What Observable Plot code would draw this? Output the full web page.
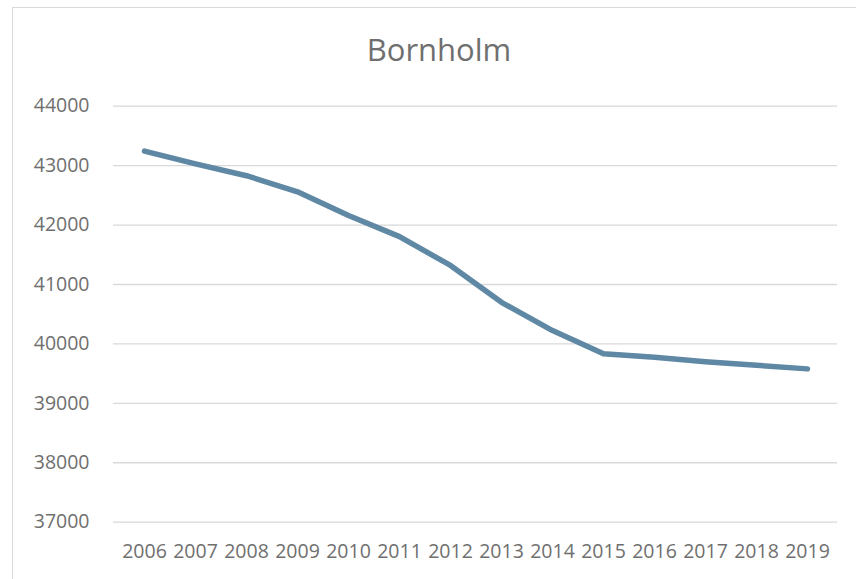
<!DOCTYPE html>
<html>
<head>
<meta charset="utf-8">
<script src="https://cdn.jsdelivr.net/npm/d3@7"></script>
<script src="https://cdn.jsdelivr.net/npm/@observablehq/plot@0.6"></script>
<style>
  html, body { margin: 0; padding: 0; background: #ffffff; overflow: hidden; }
  body { width: 856px; height: 579px; position: relative; font-family: "Open Sans", Lato, sans-serif; }
  #frame { position: absolute; left: 12px; top: 7px; width: 860px; height: 590px; border: 1px solid #d9d9d9; box-sizing: border-box; }
  #title { position: absolute; left: 0; width: 878px; top: 34px; text-align: center; font-size: 31px; line-height: 31px; color: #6f6f6f; }
  #chart { position: absolute; left: 0; top: 0; }
</style>
</head>
<body>
<div id="frame"></div>
<div id="title">Bornholm</div>
<div id="chart"></div>
<script>
const years = ["2006","2007","2008","2009","2010","2011","2012","2013","2014","2015","2016","2017","2018","2019"];
const population = [43245, 43030, 42830, 42560, 42160, 41805, 41320, 40700, 40225, 39835, 39775, 39700, 39640, 39580];
const yTicks = [37000, 38000, 39000, 40000, 41000, 42000, 43000, 44000];

const data = years.map((year, i) => ({year, value: population[i]}));

const chart = Plot.plot({
  width: 856,
  height: 579,
  marginTop: 105.7,
  marginBottom: 57.3,
  marginLeft: 113,
  marginRight: 19,
  style: {fontFamily: "'Open Sans', Lato, sans-serif", fontSize: "19.5px", color: "#6f6f6f", background: "transparent"},
  x: {type: "point", domain: years, padding: 0.5, label: null},
  y: {domain: [37000, 44000], label: null},
  marks: [
    Plot.gridY(yTicks, {stroke: "#d9d9d9", strokeOpacity: 1, strokeWidth: 1.3}),
    Plot.axisY(yTicks, {tickSize: 0, tickPadding: 24, tickFormat: d => String(d), fill: "#6f6f6f", label: null}),
    Plot.axisX({tickSize: 0, tickPadding: 21.5, fill: "#6f6f6f", label: null}),
    Plot.line(data, {x: "year", y: "value", stroke: "#5f88a5", strokeWidth: 5.5, strokeLinecap: "round", strokeLinejoin: "round"})
  ]
});
document.getElementById("chart").appendChild(chart);
</script>
</body>
</html>
